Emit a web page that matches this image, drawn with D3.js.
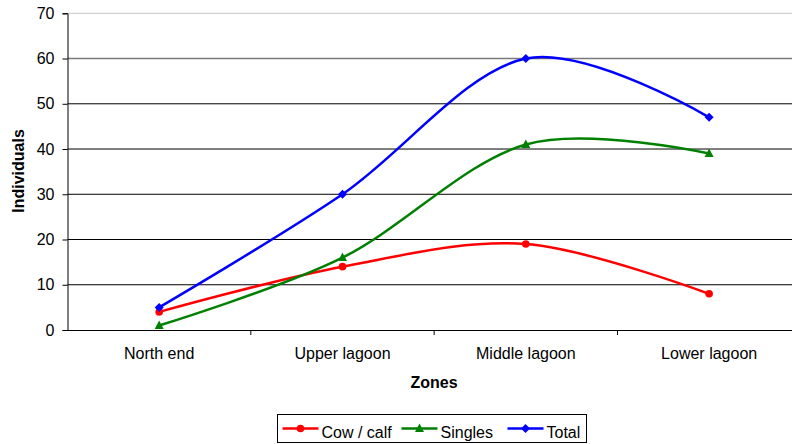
<!DOCTYPE html>
<html lang="en">
<head>
  <meta charset="UTF-8">
  <title>Individuals by zone</title>
  <script src="https://d3js.org/d3.v7.min.js"></script>
  <style>
    body {
      margin: 0;
      background: #fff;
      font-family: "Liberation Sans", Arial, sans-serif;
    }
    #chart svg { display: block; }
    .tick text { font-size: 16px; fill: #000; font-family: "Liberation Sans", Arial, sans-serif; }
    .axis-title { font-size: 16px; font-weight: bold; }
    .legend-text { font-size: 16px; }
  </style>
</head>
<body>
<div id="chart"></div>
<script>
  const zones = ["North end", "Upper lagoon", "Middle lagoon", "Lower lagoon"];
  const cowCalf = [4, 14, 19, 8];
  const singles = [1, 16, 41, 39];
  const total = [5, 30, 60, 47];
  const yTicks = [0, 10, 20, 30, 40, 50, 60, 70];

  const series = [
    {name: "Cow / calf", values: cowCalf, color: "#ff0000", marker: "circle"},
    {name: "Singles", values: singles, color: "#008000", marker: "triangle"},
    {name: "Total", values: total, color: "#0000ff", marker: "diamond"}
  ];

  const W = 792, H = 444;
  const margin = {top: 13.3, left: 67.5, bottom: 114};
  const plotW = 733.3;
  const plotH = H - margin.top - margin.bottom;

  const svg = d3.select("#chart")
                .append("svg")
                .attr("width", W)
                .attr("height", H);

  const g = svg.append("g")
               .attr("transform", `translate(${margin.left},${margin.top})`);

  const x = d3.scaleBand()
              .domain(zones)
              .range([0, plotW]);

  const y = d3.scaleLinear()
              .domain([0, 70])
              .range([plotH, 0]);

  // gridlines
  g.selectAll("line.grid")
   .data(yTicks.filter(d => d > 0))
   .enter()
   .append("line")
   .attr("class", "grid")
   .attr("x1", 0)
   .attr("x2", plotW)
   .attr("y1", d => y(d))
   .attr("y2", d => y(d))
   .attr("stroke", d => d === 70 ? "#c8c8c8" : (d === 60 ? "#7a7a7a" : "#000"))
   .attr("stroke-width", d => d === 60 ? 1.5 : 1);

  // y axis
  const yAxis = g.append("g")
                 .call(d3.axisLeft(y).tickValues(yTicks).tickSize(5).tickPadding(8));
  yAxis.select(".domain").attr("stroke", "#000");
  yAxis.selectAll(".tick line").attr("stroke", "#000");

  // x axis
  const xAxis = g.append("g")
                 .attr("transform", `translate(0,${plotH})`)
                 .call(d3.axisBottom(x).tickSize(0).tickPadding(18));
  xAxis.select(".domain").attr("stroke", "#000");

  // category separators
  g.selectAll("line.sep")
   .data(zones.slice(1))
   .enter()
   .append("line")
   .attr("class", "sep")
   .attr("x1", d => x(d))
   .attr("x2", d => x(d))
   .attr("y1", plotH)
   .attr("y2", plotH + 5)
   .attr("stroke", "#000");

  const cx = d => x(d) + x.bandwidth() / 2;

  const line = d3.line()
                 .x(d => cx(d.zone))
                 .y(d => y(d.value))
                 .curve(d3.curveCardinal.tension(0));

  function drawMarker(sel, type, color) {
    if (type === "circle") {
      sel.append("circle").attr("r", 3.8).attr("fill", color);
    } else if (type === "triangle") {
      sel.append("path").attr("d", "M0,-5 L4.5,3.5 L-4.5,3.5 Z").attr("fill", color);
    } else {
      sel.append("path").attr("d", "M0,-4.5 L4.5,0 L0,4.5 L-4.5,0 Z").attr("fill", color);
    }
  }

  series.forEach(s => {
    const pts = zones.map((z, i) => ({zone: z, value: s.values[i]}));
    g.append("path")
     .datum(pts)
     .attr("fill", "none")
     .attr("stroke", s.color)
     .attr("stroke-width", 2.5)
     .attr("d", line);

    pts.forEach(p => {
      const m = g.append("g").attr("transform", `translate(${cx(p.zone)},${y(p.value)})`);
      drawMarker(m, s.marker, s.color);
    });
  });

  // axis titles
  svg.append("text")
     .attr("class", "axis-title")
     .attr("x", 434)
     .attr("y", 388)
     .attr("text-anchor", "middle")
     .text("Zones");

  svg.append("text")
     .attr("class", "axis-title")
     .attr("transform", "rotate(-90)")
     .attr("x", -171)
     .attr("y", 24)
     .attr("text-anchor", "middle")
     .text("Individuals");

  // legend
  const legend = svg.append("g").attr("transform", "translate(277.5,414.5)");
  legend.append("rect")
        .attr("width", 309)
        .attr("height", 28)
        .attr("fill", "#fff")
        .attr("stroke", "#000");

  const legendX = [5, 124, 230];
  series.forEach((s, i) => {
    const item = legend.append("g").attr("transform", `translate(${legendX[i]},14)`);
    item.append("line")
        .attr("x1", 0).attr("x2", 36)
        .attr("stroke", s.color)
        .attr("stroke-width", 2.5);
    const m = item.append("g").attr("transform", "translate(18,0)");
    drawMarker(m, s.marker, s.color);
    item.append("text")
        .attr("class", "legend-text")
        .attr("x", 39)
        .attr("y", 3.5)
        .attr("dy", "0.35em")
        .text(s.name);
  });
</script>
</body>
</html>
